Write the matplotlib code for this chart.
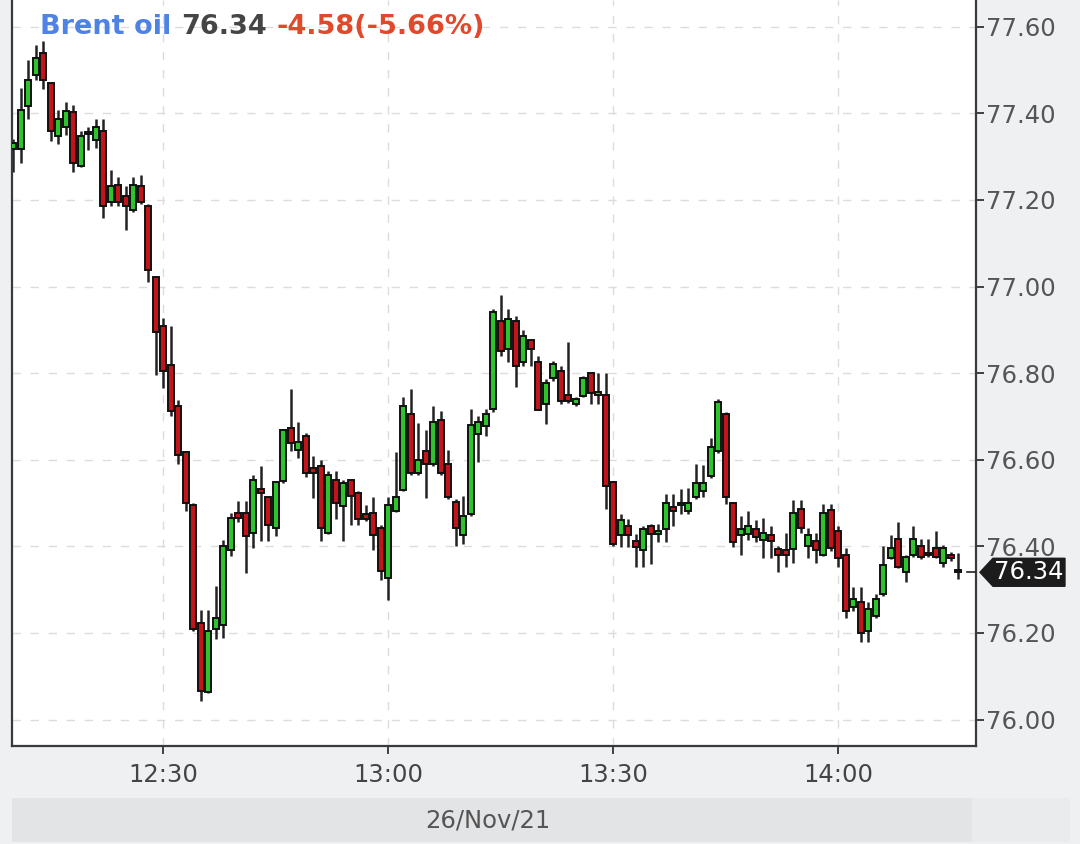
import matplotlib
matplotlib.use("Agg")
import matplotlib.pyplot as plt
import matplotlib.dates as mdates
from matplotlib.patches import Polygon, Rectangle
import pandas as pd
import numpy as np

# ---------------- data ----------------
start_time = "2021-11-26 12:10"
opens = [77.317, 77.317, 77.417, 77.488, 77.540, 77.471, 77.348, 77.369, 77.402, 77.278,
         77.354, 77.338, 77.358, 77.196, 77.235, 77.208, 77.177, 77.231, 77.186, 77.021,
         76.908, 76.819, 76.725, 76.617, 76.496, 76.223, 76.063, 76.208, 76.219, 76.392,
         76.477, 76.477, 76.431, 76.532, 76.515, 76.442, 76.550, 76.673, 76.623, 76.654,
         76.581, 76.585, 76.431, 76.554, 76.492, 76.552, 76.523, 76.475, 76.477, 76.442,
         76.327, 76.481, 76.531, 76.706, 76.569, 76.621, 76.590, 76.692, 76.590, 76.502,
         76.425, 76.475, 76.659, 76.678, 76.717, 76.921, 76.855, 76.921, 76.825, 76.877,
         76.826, 76.728, 76.788, 76.805, 76.749, 76.728, 76.748, 76.800, 76.749, 76.749,
         76.548, 76.425, 76.448, 76.412, 76.391, 76.448, 76.429, 76.440, 76.491, 76.496,
         76.482, 76.513, 76.528, 76.562, 76.619, 76.706, 76.499, 76.425, 76.429, 76.440,
         76.414, 76.427, 76.394, 76.392, 76.394, 76.486, 76.400, 76.412, 76.380, 76.485,
         76.435, 76.380, 76.259, 76.271, 76.204, 76.239, 76.290, 76.373, 76.416, 76.341,
         76.380, 76.400, 76.381, 76.396, 76.361, 76.380, 76.345]
highs = [77.340, 77.458, 77.523, 77.558, 77.568, 77.471, 77.408, 77.427, 77.419, 77.358,
         77.369, 77.388, 77.388, 77.269, 77.254, 77.231, 77.254, 77.258, 77.190, 77.023,
         76.927, 76.908, 76.738, 76.619, 76.500, 76.254, 76.254, 76.308, 76.415, 76.477,
         76.504, 76.504, 76.565, 76.585, 76.515, 76.550, 76.670, 76.763, 76.688, 76.662,
         76.608, 76.600, 76.573, 76.573, 76.554, 76.554, 76.527, 76.496, 76.515, 76.450,
         76.515, 76.617, 76.745, 76.763, 76.685, 76.669, 76.725, 76.712, 76.623, 76.510,
         76.517, 76.718, 76.702, 76.717, 76.948, 76.980, 76.948, 76.932, 76.900, 76.878,
         76.840, 76.786, 76.828, 76.817, 76.871, 76.745, 76.794, 76.802, 76.800, 76.800,
         76.550, 76.475, 76.463, 76.429, 76.448, 76.452, 76.452, 76.520, 76.520, 76.532,
         76.535, 76.589, 76.587, 76.649, 76.741, 76.710, 76.500, 76.471, 76.482, 76.461,
         76.465, 76.447, 76.400, 76.431, 76.506, 76.506, 76.443, 76.431, 76.498, 76.498,
         76.447, 76.396, 76.306, 76.306, 76.271, 76.290, 76.400, 76.427, 76.455, 76.380,
         76.447, 76.416, 76.416, 76.435, 76.404, 76.388, 76.384]
lows = [77.265, 77.285, 77.386, 77.477, 77.455, 77.335, 77.329, 77.350, 77.265, 77.276,
        77.315, 77.319, 77.158, 77.185, 77.185, 77.131, 77.173, 77.190, 77.010, 76.796,
        76.765, 76.700, 76.590, 76.481, 76.204, 76.042, 76.062, 76.185, 76.188, 76.377,
        76.455, 76.338, 76.396, 76.412, 76.412, 76.423, 76.546, 76.619, 76.604, 76.560,
        76.511, 76.412, 76.428, 76.462, 76.412, 76.450, 76.450, 76.458, 76.392, 76.323,
        76.277, 76.480, 76.527, 76.565, 76.565, 76.512, 76.585, 76.565, 76.510, 76.400,
        76.405, 76.471, 76.594, 76.655, 76.710, 76.840, 76.825, 76.767, 76.817, 76.817,
        76.715, 76.682, 76.782, 76.728, 76.732, 76.725, 76.745, 76.728, 76.728, 76.486,
        76.400, 76.398, 76.398, 76.353, 76.353, 76.360, 76.410, 76.410, 76.448, 76.475,
        76.475, 76.509, 76.513, 76.558, 76.615, 76.497, 76.398, 76.379, 76.415, 76.410,
        76.373, 76.373, 76.341, 76.353, 76.361, 76.431, 76.373, 76.361, 76.378, 76.390,
        76.353, 76.235, 76.250, 76.179, 76.179, 76.235, 76.286, 76.370, 76.350, 76.318,
        76.375, 76.370, 76.376, 76.372, 76.353, 76.365, 76.325]
closes = [77.331, 77.408, 77.477, 77.527, 77.477, 77.358, 77.386, 77.406, 77.285, 77.348,
          77.352, 77.368, 77.185, 77.231, 77.196, 77.185, 77.235, 77.196, 77.038, 76.896,
          76.804, 76.712, 76.612, 76.500, 76.208, 76.065, 76.204, 76.235, 76.400, 76.465,
          76.465, 76.423, 76.554, 76.522, 76.450, 76.548, 76.668, 76.638, 76.640, 76.569,
          76.569, 76.442, 76.565, 76.500, 76.546, 76.517, 76.462, 76.463, 76.427, 76.342,
          76.496, 76.514, 76.725, 76.569, 76.600, 76.590, 76.686, 76.569, 76.514, 76.442,
          76.471, 76.680, 76.686, 76.705, 76.942, 76.852, 76.925, 76.817, 76.886, 76.855,
          76.715, 76.778, 76.821, 76.736, 76.736, 76.740, 76.788, 76.755, 76.757, 76.540,
          76.405, 76.461, 76.425, 76.398, 76.440, 76.429, 76.436, 76.501, 76.481, 76.500,
          76.499, 76.547, 76.547, 76.630, 76.733, 76.513, 76.410, 76.440, 76.448, 76.421,
          76.430, 76.412, 76.380, 76.380, 76.478, 76.443, 76.425, 76.392, 76.478, 76.396,
          76.373, 76.251, 76.278, 76.200, 76.255, 76.278, 76.357, 76.396, 76.353, 76.376,
          76.416, 76.376, 76.380, 76.376, 76.396, 76.373, 76.340]

y_ticks = [76.00, 76.20, 76.40, 76.60, 76.80, 77.00, 77.20, 77.40, 77.60]
x_tick_times = ["2021-11-26 12:30", "2021-11-26 13:00", "2021-11-26 13:30", "2021-11-26 14:00"]
title_name = "Brent oil"
last_price = 76.34
change_text = "-4.58(-5.66%)"
date_label = "26/Nov/21"

# ---------------- figure ----------------
W, H = 1080, 844
BG = "#eff0f2"
GREEN = "#2ec42e"
RED = "#c2141b"
LABEL_FS = 17.5

fig = plt.figure(figsize=(W / 100, H / 100), dpi=100, facecolor=BG)
ax = fig.add_axes([12 / W, 98 / H, 964 / W, 746 / H])
ax.set_facecolor("white")

times = pd.date_range(start_time, periods=len(opens), freq="1min")
xs = mdates.date2num(times.to_pydatetime())
minute = 1.0 / 1440.0
body_w = 0.76 * minute

for x, o, h, l, c in zip(xs, opens, highs, lows, closes):
    ax.vlines(x, l, h, color="#222222", linewidth=1.8, zorder=2)
    col = GREEN if c >= o else RED
    bottom = min(o, c)
    height = max(abs(c - o), 0.004)
    ax.add_patch(Rectangle((x - body_w / 2, bottom), body_w, height,
                           facecolor=col, edgecolor="#111111", linewidth=1.4, zorder=3))

ax.set_xlim(xs[0] - 0.17 * minute, xs[0] + 128.36 * minute)
ax.set_ylim(75.9388, 77.6617)

# grid
ax.set_yticks(y_ticks)
ax.set_yticklabels([f"{v:.2f}" for v in y_ticks])
xt = mdates.date2num(pd.to_datetime(x_tick_times).to_pydatetime())
ax.set_xticks(xt)
ax.xaxis.set_major_formatter(mdates.DateFormatter("%H:%M"))
ax.grid(True, color="#dcdcdc", linestyle=(0, (6, 7)), linewidth=1.0, zorder=0)
ax.set_axisbelow(True)

ax.yaxis.tick_right()
ax.tick_params(axis="y", which="both", direction="out", length=6, width=1.3,
               color="#333333", labelcolor="#555555", labelsize=LABEL_FS, pad=1)
ax.tick_params(axis="x", direction="out", length=6, width=1.3,
               color="#333333", labelcolor="#444444", labelsize=LABEL_FS, pad=6)

for side in ["left", "bottom", "right"]:
    ax.spines[side].set_color("#3a3a3a")
    ax.spines[side].set_linewidth(1.6)
ax.spines["top"].set_visible(False)

# last price marker
trans = matplotlib.transforms.blended_transform_factory(ax.transAxes, ax.transData)
ax.plot([0.9905, 0.9985], [last_price, last_price], color="#222222", lw=1.2,
        transform=trans, clip_on=False, zorder=4)
hh = 0.0323
poly = Polygon([(1.0041, last_price), (1.0176, last_price + hh), (1.0923, last_price + hh),
                (1.0923, last_price - hh), (1.0176, last_price - hh)],
               closed=True, transform=trans, facecolor="#1c1c1c", edgecolor="#1c1c1c",
               clip_on=False, zorder=5)
ax.add_patch(poly)
ax.text(1.0185, last_price, f"{last_price:.2f}", transform=trans, color="white",
        fontsize=LABEL_FS, va="center", ha="left", zorder=6, clip_on=False)

# header texts
HFS = 19.5
t1 = fig.text(40 / W, 1 - 34 / H, title_name, color="#4f83e3", fontsize=HFS,
              fontweight="bold", va="baseline", ha="left")
t2 = ax.annotate(f"{last_price:.2f}", xy=(1, 0), xycoords=t1, xytext=(10, 0),
                 textcoords="offset pixels", color="#454545", fontsize=HFS,
                 fontweight="bold", va="bottom", ha="left", annotation_clip=False)
t3 = ax.annotate(change_text, xy=(1, 0), xycoords=t2, xytext=(10, 0),
                 textcoords="offset pixels", color="#e0492b", fontsize=HFS,
                 fontweight="bold", va="bottom", ha="left", annotation_clip=False)

# date band
fig.patches.append(Rectangle((12 / W, 2 / H), 960 / W, 44 / H, transform=fig.transFigure,
                             facecolor="#e3e4e6", edgecolor="none", zorder=0))
fig.patches.append(Rectangle((972 / W, 2 / H), 98 / W, 44 / H, transform=fig.transFigure,
                             facecolor="#eaebed", edgecolor="none", zorder=0))
fig.text(488 / W, 1 - 820 / H, date_label, color="#555555", fontsize=LABEL_FS,
         ha="center", va="center")

fig.savefig("out.png", dpi=100, facecolor=BG)
